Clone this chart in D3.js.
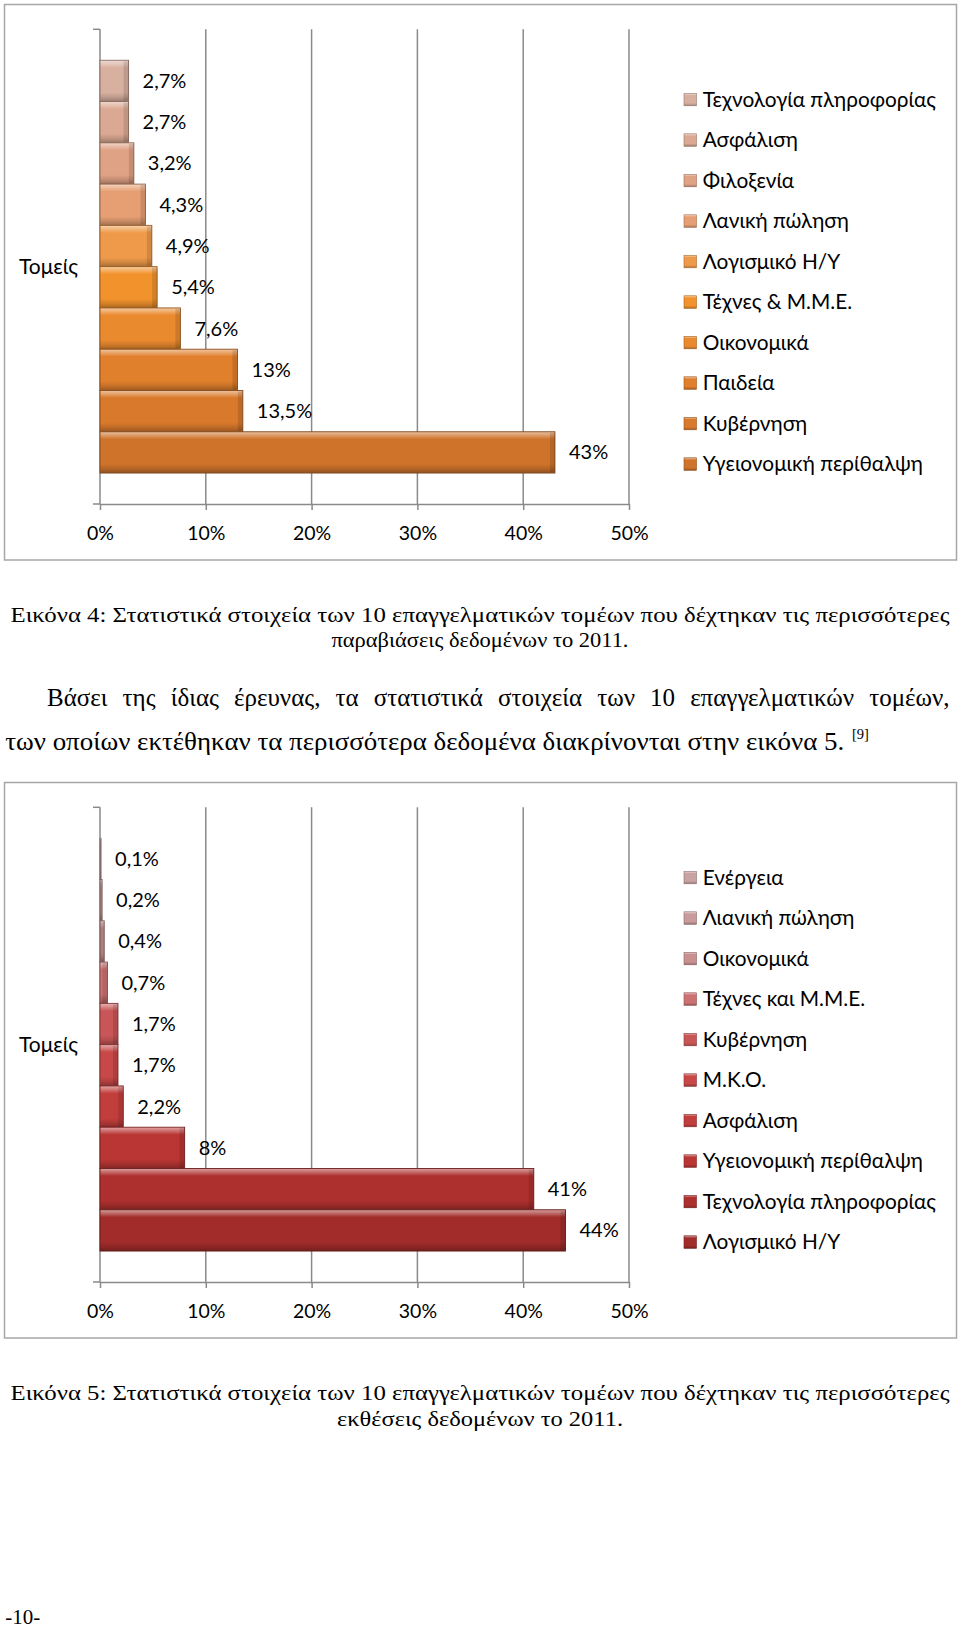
<!DOCTYPE html>
<html><head><meta charset="utf-8">
<script src="https://cdn.jsdelivr.net/npm/d3@7"></script>
<style>body{margin:0;background:#fff} svg{display:block}</style>
</head><body><svg id="page" width="960" height="1632"></svg>
<script>
// ---------- data ----------
const categoryLabel = "Τομείς";
const series1 = ["Τεχνολογία πληροφορίας","Ασφάλιση","Φιλοξενία","Λανική πώληση","Λογισμικό Η/Υ","Τέχνες & Μ.Μ.Ε.","Οικονομικά","Παιδεία","Κυβέρνηση","Υγειονομική περίθαλψη"];
const values1 = [2.7,2.7,3.2,4.3,4.9,5.4,7.6,13,13.5,43];
const series2 = ["Ενέργεια","Λιανική πώληση","Οικονομικά","Τέχνες και Μ.Μ.Ε.","Κυβέρνηση","Μ.Κ.Ο.","Ασφάλιση","Υγειονομική περίθαλψη","Τεχνολογία πληροφορίας","Λογισμικό Η/Υ"];
const values2 = [0.1,0.2,0.4,0.7,1.7,1.7,2.2,8,41,44];
const xTicks = [0,10,20,30,40,50];
const colors1 = ["#d8b0a0","#dba993","#e0a285","#e69f72","#ef9a4a","#f2922c","#ea8a2f","#e07f2c","#d9792c","#cf732b"];
const colors2 = ["#c9a3a3","#c99b9b","#c99090","#cd7272","#c95656","#c84848","#c23e3c","#b93634","#ad302e","#a12c2a"];
const caption1 = ["Εικόνα 4: Στατιστικά στοιχεία των 10 επαγγελματικών τομέων που δέχτηκαν τις περισσότερες","παραβιάσεις δεδομένων το 2011."];
const paragraph = ["Βάσει της ίδιας έρευνας, τα στατιστικά στοιχεία των 10 επαγγελματικών τομέων,","των οποίων εκτέθηκαν τα περισσότερα δεδομένα διακρίνονται στην εικόνα 5."];
const citation = "[9]";
const caption2 = ["Εικόνα 5: Στατιστικά στοιχεία των 10 επαγγελματικών τομέων που δέχτηκαν τις περισσότερες","εκθέσεις δεδομένων το 2011."];
const pageNumber = "-10-";

// ---------- drawing ----------
const svg = d3.select("#page");
svg.append("rect").attr("width",960).attr("height",1632).attr("fill","#fff");
const defs = svg.append("defs");
const fmt = d3.formatLocale({decimal:",",thousands:".",grouping:[3],currency:["","€"]}).format("~");
const sans = "Lato, 'Open Sans', sans-serif";
const serif = "'Liberation Serif','Times New Roman',serif";
const gridColor = "#8a8a8a";

function makeGrad(id, c){
  const base = d3.color(c);
  const light = d3.interpolateRgb(c,"#ffffff")(0.55);
  const dark = base.darker(1.0).formatHex();
  const gr = defs.append("linearGradient").attr("id",id).attr("x1",0).attr("y1",0).attr("x2",0).attr("y2",1);
  [[0,light],[0.1,d3.interpolateRgb(c,"#ffffff")(0.25)],[0.18,c],[0.78,c],[0.9,base.darker(0.4).formatHex()],[1,dark]].forEach(([o,col])=>
    gr.append("stop").attr("offset",o).attr("stop-color",col));
}

function drawChart(offY, names, values, colors, pref){
  const g = svg.append("g").attr("transform",`translate(0,${offY})`);
  const x = d3.scaleLinear().domain([0,50]).range([100,629]);
  const yCat = d3.scaleBand().domain([categoryLabel]).range([29.3,504]).paddingOuter(0.075).paddingInner(0);
  const top = yCat(categoryLabel);
  const ySer = d3.scaleBand().domain(names).range([top, top+yCat.bandwidth()]).padding(0);

  g.append("rect").attr("x",4.5).attr("y",4.5).attr("width",952).attr("height",555.5)
    .attr("fill","none").attr("stroke","#a6a6a6").attr("stroke-width",1.5);

  // gridlines
  g.selectAll("line.grid").data(xTicks.slice(1)).join("line").attr("class","grid")
    .attr("x1",d=>x(d)).attr("x2",d=>x(d)).attr("y1",yCat.range()[0]).attr("y2",yCat.range()[1])
    .attr("stroke",gridColor).attr("stroke-width",1.5);

  // category axis
  g.append("line").attr("x1",x(0)).attr("x2",x(0)).attr("y1",yCat.range()[0]).attr("y2",yCat.range()[1])
    .attr("stroke",gridColor).attr("stroke-width",1.5);
  g.selectAll("line.ctick").data(yCat.range()).join("line").attr("class","ctick")
    .attr("x1",x(0)-7).attr("x2",x(0)).attr("y1",d=>d).attr("y2",d=>d)
    .attr("stroke",gridColor).attr("stroke-width",1.5);
  g.append("text").attr("x",19).attr("y",top+yCat.bandwidth()/2).attr("dy","0.35em")
    .attr("font-family",sans).attr("font-size",21).text(categoryLabel);

  // value axis
  const ax = g.append("g").attr("transform",`translate(0,${yCat.range()[1]})`)
    .call(d3.axisBottom(x).tickValues(xTicks).tickFormat(d=>d+"%").tickSize(6).tickSizeOuter(0));
  ax.select(".domain").attr("stroke",gridColor).attr("stroke-width",1.5);
  ax.selectAll(".tick line").attr("stroke",gridColor).attr("stroke-width",1.5);
  ax.selectAll(".tick text").attr("y",29).attr("dy","0.35em")
    .attr("font-family",sans).attr("font-size",19.5).attr("fill","#000");

  // bars
  names.forEach((n,i)=>makeGrad(`${pref}g${i}`, colors[i]));
  const bars = g.selectAll("g.bar").data(names.map((n,i)=>({n,v:values[i],i}))).join("g").attr("class","bar");
  bars.append("rect")
    .attr("x",x(0)).attr("y",d=>ySer(d.n)).attr("width",d=>x(d.v)-x(0)).attr("height",ySer.bandwidth())
    .attr("fill",d=>`url(#${pref}g${d.i})`)
    .attr("stroke",d=>d3.color(colors[d.i]).darker(1.3).formatHex()).attr("stroke-width",0.9);
  bars.append("rect")
    .attr("x",d=>Math.max(x(0),x(d.v)-5)).attr("y",d=>ySer(d.n)+1).attr("width",d=>Math.min(5,x(d.v)-x(0)))
    .attr("height",ySer.bandwidth()-2).attr("fill","#000").attr("opacity",0.12);
  bars.append("text")
    .attr("x",d=>x(d.v)+14).attr("y",d=>ySer(d.n)+ySer.bandwidth()/2).attr("dy","0.35em")
    .attr("font-family",sans).attr("font-size",20).attr("fill","#000")
    .text(d=>fmt(d.v)+"%");

  // legend
  const lg = g.selectAll("g.leg").data(names).join("g").attr("class","leg")
    .attr("transform",(d,i)=>`translate(684,${99.3+i*40.5})`);
  lg.append("rect").attr("x",0).attr("y",-6).attr("width",12.5).attr("height",12.5)
    .attr("fill",(d,i)=>`url(#${pref}g${i})`).attr("stroke",(d,i)=>d3.color(colors[i]).darker(1).formatHex()).attr("stroke-width",0.6);
  lg.append("text").attr("x",18.7).attr("y",0).attr("dy","0.35em")
    .attr("font-family",sans).attr("font-size",20.8).attr("fill","#000").text(d=>d);
}

drawChart(0, series1, values1, colors1, "a");
drawChart(778, series2, values2, colors2, "b");

// ---------- text ----------
function serifText(str, x, y, size, anchor, len){
  const t = svg.append("text").attr("x",x).attr("y",y).attr("dy","0.35em")
    .attr("font-family",serif).attr("font-size",size).attr("text-anchor",anchor).attr("fill","#000").text(str);
  if(len){ t.attr("textLength",len).attr("lengthAdjust","spacingAndGlyphs"); }
  return t;
}
serifText(caption1[0],480,614,21.5,"middle",939);
serifText(caption1[1],480,639.5,21.5,"middle",297);
// justified paragraph line 1
(function(){
  const words = paragraph[0].split(" ");
  const x0 = 47, x1 = 949.6, y = 697.6;
  const tmp = words.map(w=>serifText(w,0,y,25,"start"));
  const widths = tmp.map(t=>t.node().getComputedTextLength());
  const gap = (x1-x0-d3.sum(widths))/(words.length-1);
  let cx = x0;
  tmp.forEach((t,i)=>{ t.attr("x",cx); cx += widths[i]+gap; });
})();
serifText(paragraph[1],5.2,741.3,25,"start",839);
svg.append("text").attr("x",852).attr("y",734).attr("dy","0.35em").attr("font-family",serif)
  .attr("font-size",14.5).attr("fill","#000").text(citation);
serifText(caption2[0],480,1392,21.5,"middle",939);
serifText(caption2[1],480,1418,21.5,"middle",286);
serifText(pageNumber,5.2,1617,21,"start");
</script></body></html>
